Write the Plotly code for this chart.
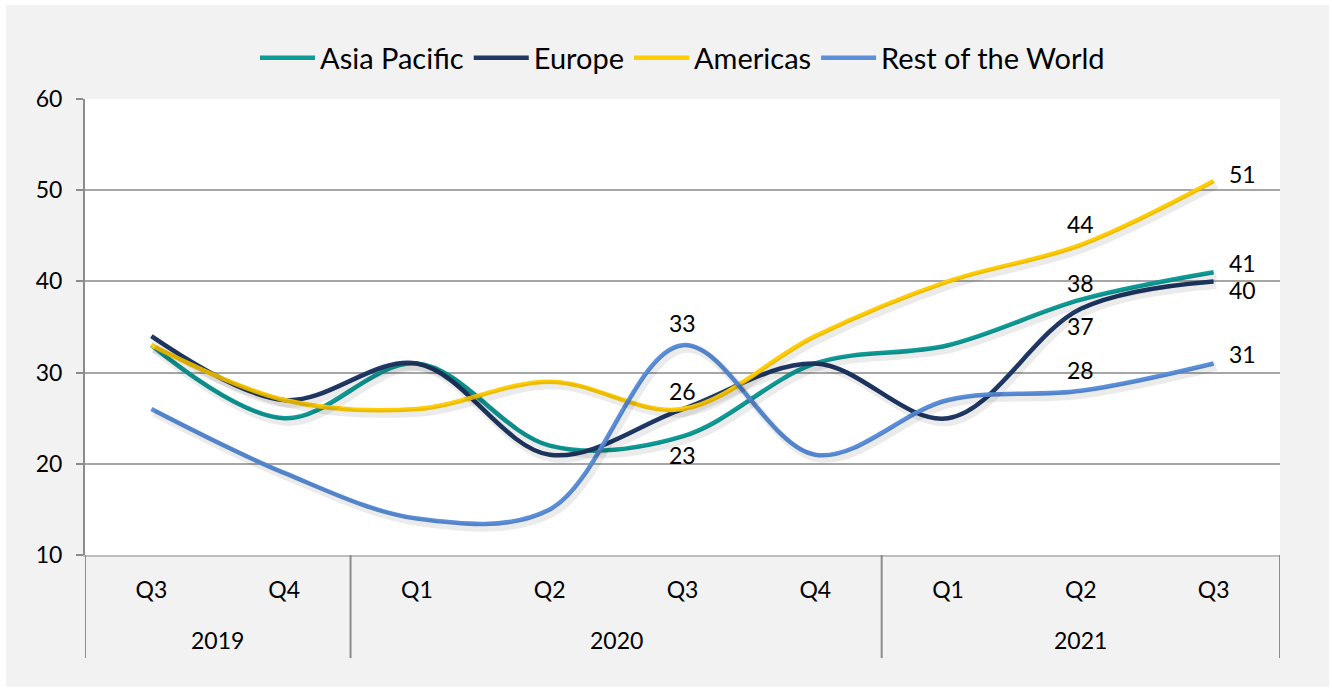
import plotly.graph_objects as go

years = ["2019", "2019", "2020", "2020", "2020", "2020", "2021", "2021", "2021"]
quarters = ["Q3", "Q4", "Q1", "Q2", "Q3", "Q4", "Q1", "Q2", "Q3"]

asia_pacific = [33, 25, 31, 22, 23, 31, 33, 38, 41]
europe = [34, 27, 31, 21, 26, 31, 25, 37, 40]
americas = [33, 27, 26, 29, 26, 34, 40, 44, 51]
rest_of_world = [26, 19, 14, 15, 33, 21, 27, 28, 31]

series = [
    ("Asia Pacific", asia_pacific, "#0e9a95"),
    ("Europe", europe, "#1f3864"),
    ("Americas", americas, "#ffcc00"),
    ("Rest of the World", rest_of_world, "#5b8fd9"),
]

# labelled points: (series values, index, xshift, yshift, xanchor)
labels = [
    (americas, 8, 13, 7, "left"),
    (americas, 7, 0, 21, "center"),
    (asia_pacific, 8, 13, 9, "left"),
    (asia_pacific, 7, 0, 17, "center"),
    (asia_pacific, 4, 0, -19, "center"),
    (europe, 8, 13, -9, "left"),
    (europe, 7, 0, -17, "center"),
    (europe, 4, 0, 18, "center"),
    (rest_of_world, 8, 13, 9, "left"),
    (rest_of_world, 7, 0, 21, "center"),
    (rest_of_world, 4, 0, 22, "center"),
]

FONT = "Lato"
TXT = 23
fig = go.Figure()
idx = list(range(len(quarters)))
n = len(quarters)

# soft drop shadows on an offset overlay axis
for name, vals, col in series:
    fig.add_trace(go.Scatter(
        x=idx, y=vals, xaxis="x2", yaxis="y2", mode="lines",
        line=dict(color="rgba(0,0,0,0.08)", width=8, shape="spline", smoothing=1),
        showlegend=False, hoverinfo="skip"))

for name, vals, col in series:
    fig.add_trace(go.Scatter(
        x=idx, y=vals, name=name, mode="lines",
        line=dict(color=col, width=4.5, shape="spline", smoothing=1)))

ann = []
for vals, i, xs, ys, xa in labels:
    ann.append(dict(x=i, y=vals[i], xref="x", yref="y", text=str(vals[i]),
                    showarrow=False, xshift=xs, yshift=ys, xanchor=xa,
                    font=dict(family=FONT, size=TXT, color="#000000")))

# year group labels and dividers
groups = []
for i, yv in enumerate(years):
    if not groups or groups[-1][0] != yv:
        groups.append([yv, i, i])
    else:
        groups[-1][2] = i
shapes = [
    dict(type="rect", xref="paper", yref="paper", x0=-0.066, x1=1.041,
         y0=-0.289, y1=1.206, fillcolor="#f2f2f2", line=dict(width=0), layer="below"),
    dict(type="rect", xref="paper", yref="paper", x0=0, x1=1, y0=0, y1=1,
         fillcolor="white", line=dict(width=0), layer="below"),
]
bounds = [g[1] - 0.5 for g in groups] + [groups[-1][2] + 0.5]
for b in bounds:
    shapes.append(dict(type="line", xref="x", yref="paper", x0=b, x1=b, y0=0, y1=-0.226,
                       line=dict(color="#8c8c8c", width=2)))
for yv, a, b in groups:
    ann.append(dict(x=(a + b) / 2, y=-0.186, xref="x", yref="paper", text=yv,
                    showarrow=False, yanchor="middle",
                    font=dict(family=FONT, size=TXT, color="#000000")))

fig.update_layout(
    width=1332, height=690,
    margin=dict(l=85, r=52, t=99, b=135),
    paper_bgcolor="white",
    plot_bgcolor="white",
    font=dict(family=FONT, size=TXT, color="#000000"),
    shapes=shapes,
    legend=dict(orientation="h", x=0.5, xanchor="center", y=1.09, yanchor="middle",
                font=dict(family=FONT, size=29, color="#000000"),
                bgcolor="rgba(0,0,0,0)", itemwidth=55, tracegroupgap=0),
    xaxis=dict(range=[-0.5, n - 0.5], tickvals=idx, ticktext=quarters,
               showline=True, linecolor="#bfbfbf", linewidth=2,
               showgrid=False, ticks="", zeroline=False, ticklabelstandoff=13,
               tickfont=dict(family=FONT, size=TXT)),
    yaxis=dict(range=[10, 60], dtick=10, showline=True, linecolor="#8c8c8c", linewidth=2,
               ticks="outside", ticklen=7, tickcolor="#8c8c8c", tickwidth=2,
               ticklabelstandoff=9,
               showgrid=True, gridcolor="#a6a6a6", gridwidth=1.5, zeroline=False,
               tickfont=dict(family=FONT, size=TXT)),
    xaxis2=dict(overlaying="x", range=[-0.52, n - 0.52], visible=False),
    yaxis2=dict(overlaying="y", range=[10.4, 60.4], visible=False),
    annotations=ann,
)

fig.write_html("out.html", config={"displayModeBar": False},
               post_script="document.body.style.margin='0px';")
